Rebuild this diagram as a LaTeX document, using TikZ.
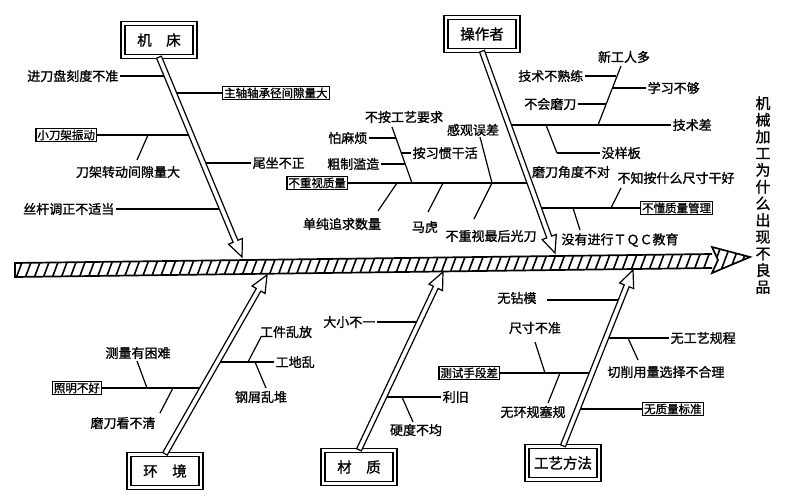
\documentclass[tikz,border=0pt]{standalone}
\usepackage{fontspec}
\newfontfamily\cjk[FakeBold=1.2]{Noto Sans CJK SC}
\usepackage{tikz}
\usetikzlibrary{calc}
\tikzset{
 cat/.style={draw,line width=1.4pt,double,double distance=2.4pt,minimum width=72pt,
   minimum height=33pt,inner sep=2pt,font=\cjk\fontsize{14.5}{15}\selectfont},
 lbl/.style={inner sep=1.5pt,font=\cjk\fontsize{13}{13}\selectfont},
 tag/.style={lbl,draw,line width=1.2pt,inner sep=1.5pt,font=\cjk\fontsize{11.5}{12}\selectfont},
 twig/.style={line width=1.2pt},
 bone/.style={draw,fill=white,line width=1.2pt,line join=miter},
 spine/.style={line width=1.7pt,line join=miter},
 hatch/.style={line width=1.6pt},
 title/.style={align=center,inner sep=0pt,font=\cjk\fontsize{15}{16.7}\selectfont}
}
\begin{document}
\begin{tikzpicture}[x=1pt,y=-1pt]
\useasboundingbox (0,0) rectangle (788,500);
\fill[white] (0,0) rectangle (788,500);

% spine
\coordinate (spTL) at (15,263); \coordinate (spBL) at (15,277);
\coordinate (spTR) at (712,254); \coordinate (spBR) at (712,268);
\coordinate (hdA) at (712,247); \coordinate (hdB) at (750,257);
\coordinate (hdC) at (712,273); \coordinate (hdD) at (718,260);
\begin{scope}
\clip (spTL)--(spTR)--(spBR)--(spBL)--cycle (hdA)--(hdB)--(hdC)--(hdD)--cycle;
\foreach \x in {6,15,...,750} \draw[hatch] (\x,281) -- ({\x+12},249);
\end{scope}
\draw[spine] (spTR)--(spTL)--(spBL)--(spBR);
\draw[spine,fill=none] (hdA)--(hdB)--(hdC)--(hdD)--cycle;

% category boxes
\node[cat] (jc) at (159,40) {机\quad 床};
\node[cat] (czz) at (482,34) {操作者};
\node[cat] (hj) at (165,471) {环\quad 境};
\node[cat] (cz) at (359,467) {材\quad 质};
\node[cat] (gy) at (563,463) {工艺方法};
\coordinate (jcH) at (242,257); \coordinate (czzH) at (555,253);
\coordinate (hjH) at (267,275); \coordinate (czH) at (443,272);
\coordinate (gyH) at (633,270);

% 机床
\coordinate (jc1) at (166,76); \coordinate (jc2) at (174,93);
\coordinate (jc3) at (191,135); \coordinate (jc4) at (203,163);
\coordinate (jc5) at (221,209);
\coordinate (k1) at (148,135); \coordinate (k2) at (137,160);
\node[lbl,anchor=east] (jdk) at (120,76) {进刀盘刻度不准};
\node[tag,anchor=west] (zz) at (222,93) {主轴轴承径间隙量大};
\node[tag,anchor=east] (xdj) at (97,135) {小刀架振动};
\node[lbl] (djzd) at (128,172) {刀架转动间隙量大};
\node[lbl,anchor=west] (wz) at (251,163) {尾坐不正};
\node[lbl,anchor=east] (sg) at (116,209) {丝杆调正不适当};

% 操作者
\coordinate (op1) at (508,125); \coordinate (op2) at (529,183);
\coordinate (op3) at (539,208);
\coordinate (a1) at (598,125); \coordinate (a2) at (621,66);
\coordinate (a3) at (616,76); \coordinate (a4) at (612,88);
\coordinate (a5) at (606,104);
\coordinate (b1) at (546,125); \coordinate (b2) at (557,153);
\coordinate (c1) at (412,183); \coordinate (c2) at (392,127);
\coordinate (c3) at (396,138); \coordinate (c4) at (405,164);
\coordinate (c5) at (401,153);
\coordinate (d1) at (492,183); \coordinate (d2) at (480,137);
\coordinate (e1) at (397,183); \coordinate (e2) at (378,211);
\coordinate (f1) at (443,183); \coordinate (f2) at (428,212);
\coordinate (g2) at (474,219);
\coordinate (h1) at (611,208); \coordinate (h2) at (621,188);
\coordinate (h3) at (573,208); \coordinate (h4) at (580,230);
\node[lbl,anchor=west] (jsc) at (671,125) {技术差};
\node[lbl] (xgr) at (624,57) {新工人多};
\node[lbl,anchor=east] (jsb) at (585,76) {技术不熟练};
\node[lbl,anchor=west] (xx) at (646,88) {学习不够};
\node[lbl,anchor=east] (bhm) at (578,104) {不会磨刀};
\node[lbl,anchor=west] (myb) at (600,153) {没样板};
\node[lbl] (mdj) at (571,172) {磨刀角度不对};
\node[tag,anchor=east] (bzs) at (348,183) {不重视质量};
\node[lbl] (bag) at (404,117) {不按工艺要求};
\node[lbl,anchor=east] (pmf) at (369,138) {怕麻烦};
\node[lbl,anchor=east] (czl) at (381,164) {粗制滥造};
\node[lbl,anchor=west] (axg) at (411,153) {按习惯干活};
\node[lbl] (ggw) at (473,130) {感观误差};
\node[lbl] (dc) at (342,224) {单纯追求数量};
\node[lbl] (mh) at (425,227) {马虎};
\node[lbl] (bzg) at (491,236) {不重视最后光刀};
\node[tag,anchor=west] (bdz) at (640,208) {不懂质量管理};
\node[lbl] (bzd) at (676,178) {不知按什么尺寸干好};
\node[lbl] (tqc) at (620,240) {没有进行ＴＱＣ教育};

% 环境
\coordinate (hj1) at (202,388); \coordinate (hj2) at (217,362);
\coordinate (i1) at (147,388); \coordinate (i2) at (137,361);
\coordinate (i3) at (173,388); \coordinate (i4) at (160,413);
\coordinate (j1) at (248,362); \coordinate (j2) at (261,337);
\coordinate (j3) at (255,362); \coordinate (j4) at (266,388);
\node[tag,anchor=east] (zm) at (102,388) {照明不好};
\node[lbl] (clk) at (138,353) {测量有困难};
\node[lbl] (mdk) at (123,423) {磨刀看不清};
\node[lbl,anchor=west] (gdl) at (274,362) {工地乱};
\node[lbl] (gjl) at (286,332) {工件乱放};
\node[lbl] (gxl) at (261,397) {钢屑乱堆};

% 材质
\coordinate (cz1) at (419,322); \coordinate (cz2) at (383,397);
\coordinate (l1) at (402,397); \coordinate (l2) at (413,422);
\node[lbl,anchor=east] (dx) at (377,322) {大小不一};
\node[lbl,anchor=west] (lj) at (441,397) {利旧};
\node[lbl] (ydb) at (416,430) {硬度不均};

% 工艺方法
\coordinate (gy1) at (621,300); \coordinate (gy2) at (605,338);
\coordinate (gy3) at (592,373); \coordinate (gy4) at (577,409);
\coordinate (m1) at (547,300);
\coordinate (o1) at (628,338); \coordinate (o2) at (638,360);
\coordinate (p1) at (545,373); \coordinate (p2) at (535,342);
\coordinate (p3) at (560,373); \coordinate (p4) at (548,403);
\node[lbl] (wzm) at (517,298) {无钻模};
\node[lbl,anchor=west] (wgy) at (669,338) {无工艺规程};
\node[lbl] (qx) at (666,372) {切削用量选择不合理};
\node[tag,anchor=east] (cs) at (500,373) {测试手段差};
\node[lbl] (ccb) at (535,328) {尺寸不准};
\node[lbl] (whg) at (533,412) {无环规塞规};
\node[tag,anchor=west] (wzl) at (642,409) {无质量标准};

\node[title] (tt) at (763,195) {机\\械\\加\\工\\为\\什\\么\\出\\现\\不\\良\\品};

\foreach \a/\b in {jdk.east/jc1,jc2/zz.west,xdj.east/jc3,k1/k2,jc4/wz.west,sg.east/jc5,
  op1/jsc.west,a1/a2,jsb.east/a3,a4/xx.west,bhm.east/a5,b1/b2,b2/myb.west,
  bzs.east/op2,c1/c2,pmf.east/c3,czl.east/c4,c5/axg.west,d1/d2,e1/e2,f1/f2,d1/g2,
  op3/bdz.west,h1/h2,h3/h4,
  zm.east/hj1,i1/i2,i3/i4,hj2/gdl.west,j1/j2,j3/j4,
  dx.east/cz1,cz2/lj.west,l1/l2,
  m1/gy1,gy2/wgy.west,o1/o2,cs.east/gy3,p1/p2,p3/p4,gy4/wzl.west}
  \draw[twig] (\a)--(\b);

% bones
\foreach \t/\h in {jc.south/jcH,czz.south/czzH,hj.north/hjH,cz.north/czH,gy.north/gyH}{
  \coordinate (hb) at ($(\h)!17pt!(\t)$);
  \draw[bone] ($(\t)!2.6pt!90:(\h)$) -- ($(hb)!2.6pt!90:(\h)$) -- ($(hb)!7.5pt!90:(\h)$)
    -- (\h) -- ($(hb)!7.5pt!-90:(\h)$) -- ($(hb)!2.6pt!-90:(\h)$)
    -- ($(\t)!2.6pt!-90:(\h)$) -- cycle;
}
\end{tikzpicture}
\end{document}
